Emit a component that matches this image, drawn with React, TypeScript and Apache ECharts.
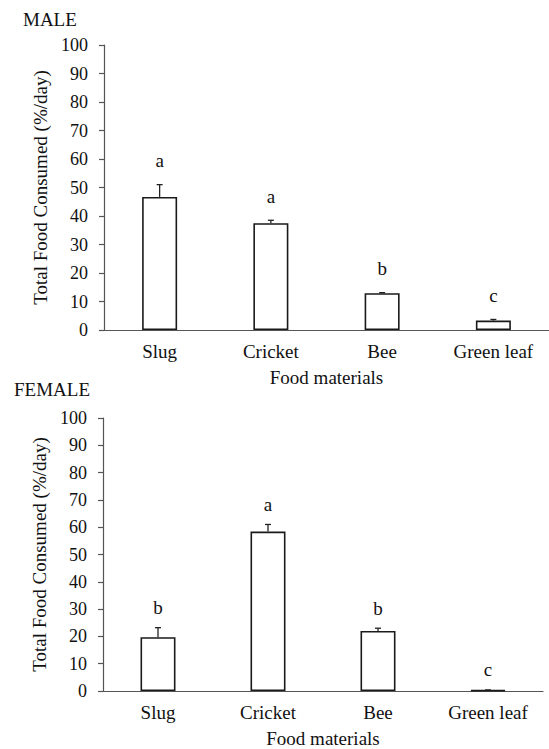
import React, { useEffect, useRef } from "react";
import * as echarts from "echarts";

const categories = ["Slug", "Cricket", "Bee", "Green leaf"];
const yTicks = [0, 10, 20, 30, 40, 50, 60, 70, 80, 90, 100];

const maleMean = [46.7, 37.5, 12.9, 3.3];
const maleErr = [4.3, 1.0, 0.2, 0.4];
const maleLetters = ["a", "a", "b", "c"];

const femaleMean = [19.7, 58.4, 22.0, 0.3];
const femaleErr = [3.5, 2.6, 1.0, 0.1];
const femaleLetters = ["b", "a", "b", "c"];

const FONT = '"Liberation Serif", "Times New Roman", serif';
const TEXT = "#111";
const AXIS = "#555";

function errorSeries(mean: number[], err: number[], letters: string[], axisIdx: number, gap: number) {
  return {
    type: "custom",
    xAxisIndex: axisIdx,
    yAxisIndex: axisIdx,
    z: 5,
    data: mean.map((m, i) => [i, m + err[i], m, letters[i]]),
    renderItem: (params: any, api: any) => {
      const i = api.value(0);
      const top = api.coord([i, api.value(1)]);
      const base = api.coord([i, api.value(2)]);
      const letter = letters[params.dataIndex];
      return {
        type: "group",
        children: [
          {
            type: "line",
            shape: { x1: top[0], y1: base[1], x2: top[0], y2: top[1] },
            style: { stroke: "#222", lineWidth: 1.3 },
          },
          {
            type: "line",
            shape: { x1: top[0] - 3, y1: top[1], x2: top[0] + 3, y2: top[1] },
            style: { stroke: "#222", lineWidth: 1.3 },
          },
          {
            type: "text",
            style: {
              text: letter,
              x: top[0],
              y: top[1] - gap,
              align: "center",
              verticalAlign: "middle",
              fontSize: 19,
              fontFamily: FONT,
              fill: TEXT,
            },
          },
        ],
      };
    },
  };
}

function xAxis(gridIndex: number) {
  return {
    type: "category",
    gridIndex,
    data: categories,
    name: "Food materials",
    nameLocation: "middle",
    nameGap: 38,
    nameTextStyle: { fontSize: 19, fontFamily: FONT, color: TEXT },
    axisLine: { show: true, lineStyle: { color: AXIS, width: 1.2 } },
    axisTick: { show: false },
    axisLabel: { fontSize: 19, fontFamily: FONT, color: TEXT, margin: 12, interval: 0 },
  };
}

function yAxis(gridIndex: number) {
  return {
    type: "value",
    gridIndex,
    min: yTicks[0],
    max: yTicks[yTicks.length - 1],
    interval: yTicks[1] - yTicks[0],
    name: "Total Food Consumed (%/day)",
    nameLocation: "middle",
    nameGap: 47,
    nameTextStyle: { fontSize: 19, fontFamily: FONT, color: TEXT },
    axisLine: { show: true, lineStyle: { color: AXIS, width: 1.2 } },
    axisTick: { show: true, length: 5, lineStyle: { color: AXIS, width: 1.2 } },
    axisLabel: { fontSize: 18, fontFamily: FONT, color: TEXT, margin: 16 },
    splitLine: { show: false },
  };
}

function barSeries(values: number[], idx: number) {
  return {
    type: "bar",
    xAxisIndex: idx,
    yAxisIndex: idx,
    data: values,
    barWidth: 35,
    itemStyle: { color: "#fff", borderColor: "#1a1a1a", borderWidth: 1.6 },
  };
}

export default function App() {
  const ref = useRef<HTMLDivElement>(null);
  useEffect(() => {
    if (!ref.current) return;
    const chart = echarts.init(ref.current, null, { renderer: "svg" });
    chart.setOption({
      animation: false,
      backgroundColor: "#fff",
      title: [
        { text: "MALE", left: 18, top: 5, textStyle: { fontSize: 19, fontWeight: "normal", fontFamily: FONT, color: TEXT } },
        { text: "FEMALE", left: 9, top: 375, textStyle: { fontSize: 19, fontWeight: "normal", fontFamily: FONT, color: TEXT } },
      ],
      grid: [
        { left: 104, top: 45, width: 450, height: 285 },
        { left: 103, top: 418, width: 440, height: 274.5 },
      ],
      xAxis: [xAxis(0), xAxis(1)],
      yAxis: [yAxis(0), yAxis(1)],
      series: [
        barSeries(maleMean, 0),
        barSeries(femaleMean, 1),
        errorSeries(maleMean, maleErr, maleLetters, 0, 24),
        errorSeries(femaleMean, femaleErr, femaleLetters, 1, 20),
      ],
    });
    return () => chart.dispose();
  }, []);
  return (
    <div
      ref={ref}
      style={{ position: "fixed", left: 0, top: 0, width: 549, height: 749, background: "#fff" }}
    />
  );
}
